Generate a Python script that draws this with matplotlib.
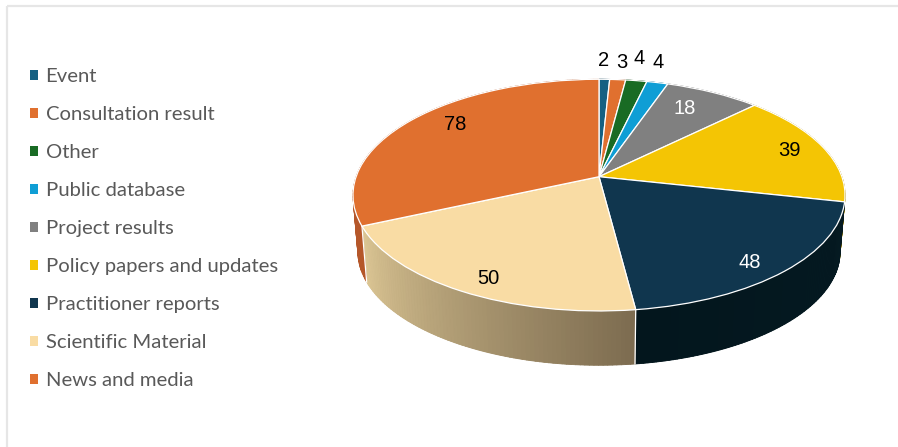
import numpy as np
import matplotlib
matplotlib.use('Agg')
import matplotlib.pyplot as plt
from matplotlib.collections import PolyCollection
from matplotlib.colors import to_rgb
from matplotlib.patches import Patch, Polygon, Rectangle
from matplotlib.transforms import Transform

categories = ['Event', 'Consultation result', 'Other', 'Public database', 'Project results',
              'Policy papers and updates', 'Practitioner reports', 'Scientific Material',
              'News and media']
counts = [2, 3, 4, 4, 18, 39, 48, 50, 78]
colors = ['#156082', '#E0702F', '#196B24', '#0F9ED5', '#808080',
          '#F4C504', '#10364E', '#F9DCA4', '#E0702F']
# side wall shading, from low angle to high angle of each slice
wall_start = ['#0e4259', '#a04f22', '#114a19', '#0a6f96', '#5a5a5a',
              '#aa8a03', '#03161D', '#DDC795', '#B5572A']
wall_end = ['#0e4259', '#a04f22', '#114a19', '#0a6f96', '#5a5a5a',
            '#aa8a03', '#051A22', '#7D6C50', '#B5572A']
text_colors = ['black', 'black', 'black', 'black', 'white', 'black', 'white', 'black', 'black']

label_x = [604, 622, 639, 658, 685, 789, 750, 488, 455]
label_y = [61, 62, 58, 63, 108, 151, 262, 278, 124]


class DiscProjection(Transform):
    # unit circle -> tilted disc in pixel coordinates, with perspective
    input_dims = 2
    output_dims = 2

    def __init__(self, cx, cy, a, b, k, scale=1.0):
        super().__init__()
        self.cx, self.cy = cx, cy
        self.a, self.b, self.k = a, b, k
        self.scale = scale

    def transform_non_affine(self, values):
        values = np.asarray(values)
        u, v = values[:, 0], values[:, 1]
        w = 1 + self.k * v
        x = self.cx + self.scale * self.a * u / w
        y = self.cy - self.scale * self.b * v / w
        return np.column_stack([x, y])


top_disc = DiscProjection(599, 176.7, 242.9, 112.9, 0.159)
bottom_disc = DiscProjection(599, 176.7 + 57, 242.9, 112.9, 0.159, scale=0.98)

fig = plt.figure(figsize=(8.98, 4.47), dpi=100)
ax = fig.add_axes([0, 0, 1, 1])

wedges, _ = ax.pie(counts, colors=colors, startangle=90, counterclock=False,
                   wedgeprops={'edgecolor': 'white', 'linewidth': 0.9, 'zorder': 3})
for w in wedges:
    w.set_transform(top_disc + ax.transData)

ax.set_aspect('auto')
ax.set_xlim(0, 898)
ax.set_ylim(447, 0)
ax.set_axis_off()

# side wall, one thin quad per step so the shading can change along the rim
for w, c0, c1 in zip(wedges, wall_start, wall_end):
    t = np.radians(np.linspace(w.theta1, w.theta2, 80))
    rim = np.column_stack([np.cos(t), np.sin(t)])
    upper = top_disc.transform(rim)
    lower = bottom_disc.transform(rim)
    quads = [[upper[i], upper[i + 1], lower[i + 1], lower[i]] for i in range(len(t) - 1)]
    mix = np.linspace(0, 1, len(quads))[:, None]
    shades = (1 - mix) * np.array(to_rgb(c0)) + mix * np.array(to_rgb(c1))
    # solid backing stops the quad seams showing through
    ax.add_patch(Polygon(np.vstack([upper, lower[::-1]]), facecolor=shades[len(shades) // 2],
                         edgecolor='none', zorder=1))
    ax.add_collection(PolyCollection(quads, facecolors=shades, edgecolors=shades,
                                     linewidths=0.6, zorder=1.5))

# white seams where slices meet on the front of the wall
for w in wedges[6:8]:
    t = np.radians(w.theta1)
    rim = np.array([[np.cos(t), np.sin(t)]])
    seam = np.vstack([top_disc.transform(rim), bottom_disc.transform(rim)])
    ax.plot(seam[:, 0], seam[:, 1], color='white', lw=0.9, zorder=2)

for x, y, n, tc in zip(label_x, label_y, counts, text_colors):
    ax.text(x, y, str(n), color=tc, fontsize=14.5, family='Liberation Sans',
            ha='center', va='center', zorder=4)

handles = [Patch(facecolor=c, edgecolor='none') for c in colors]
ax.legend(handles, categories, loc='upper left', bbox_to_anchor=(30, 68),
          bbox_transform=ax.transData, frameon=False, borderpad=0, borderaxespad=0,
          prop={'family': 'Lato', 'size': 14.55}, labelcolor='#595959',
          handlelength=0.39, handleheight=0.39, handletextpad=0.38, labelspacing=1.04)

# chart area border, only top and left fall inside the image
ax.add_patch(Rectangle((7, 6), 1000, 600, fill=False, edgecolor='#E6E6E6', lw=1.6, zorder=0))

fig.savefig('out.png', dpi=100)
